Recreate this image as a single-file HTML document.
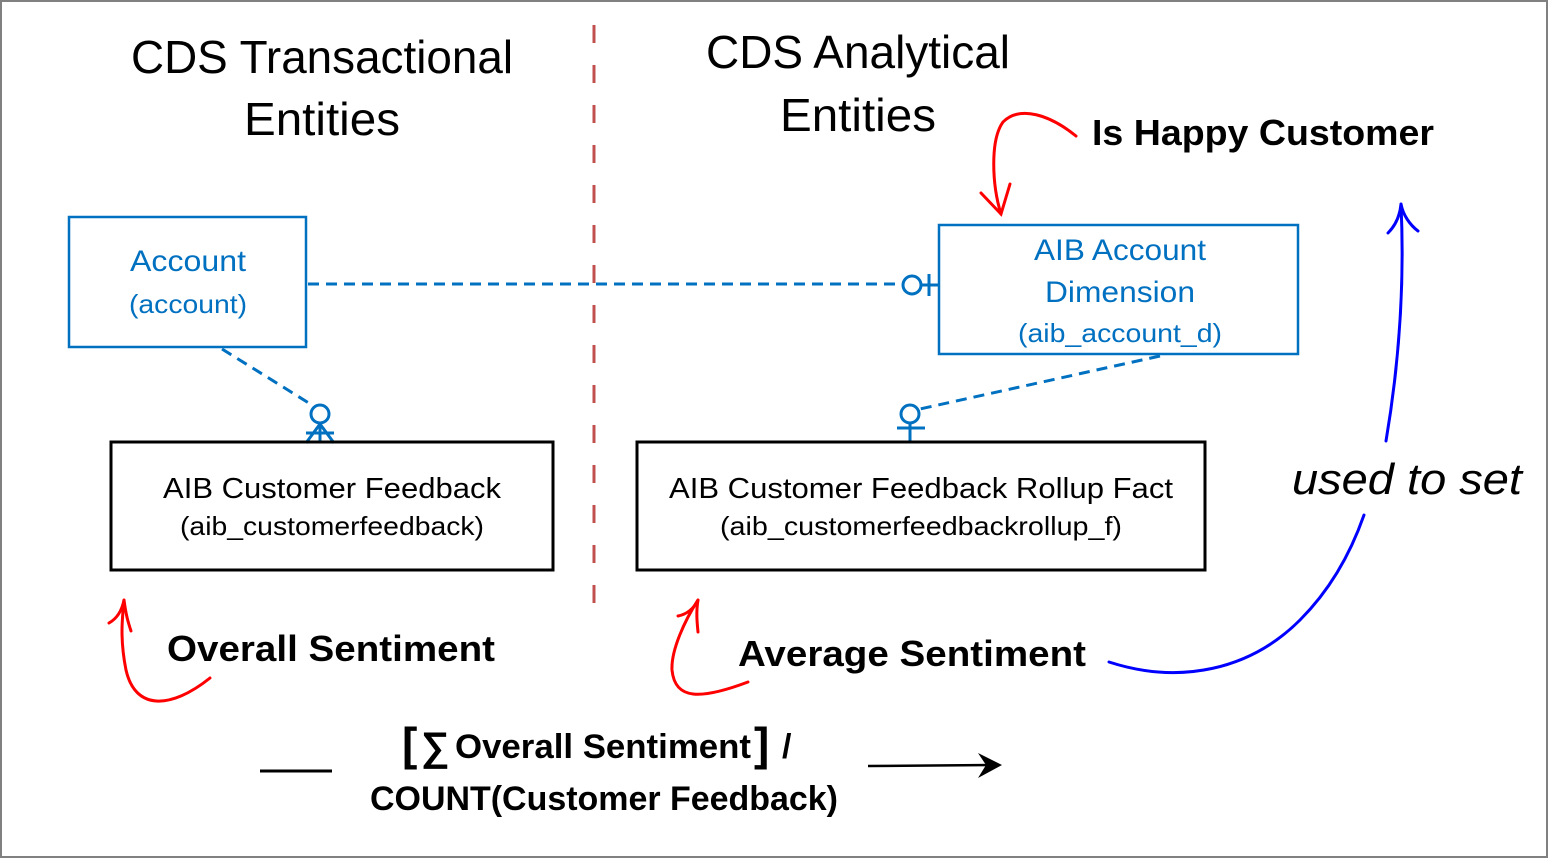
<!DOCTYPE html>
<html><head><meta charset="utf-8"><style>
html,body{margin:0;padding:0;background:#fff}
svg{display:block}
text{font-family:"Liberation Sans",sans-serif}
</style></head><body>
<svg width="1548" height="858" viewBox="0 0 1548 858" xmlns="http://www.w3.org/2000/svg">
<rect x="1" y="1" width="1546" height="856" fill="#fff" stroke="#808080" stroke-width="2"/>
<!-- titles -->
<g font-size="46" fill="#000" text-anchor="middle">
<text x="322" y="73" textLength="382" lengthAdjust="spacingAndGlyphs">CDS Transactional</text>
<text x="322" y="135" textLength="156" lengthAdjust="spacingAndGlyphs">Entities</text>
<text x="858" y="68" textLength="304" lengthAdjust="spacingAndGlyphs">CDS Analytical</text>
<text x="858" y="131" textLength="156" lengthAdjust="spacingAndGlyphs">Entities</text>
</g>
<!-- divider -->
<line x1="594" y1="25" x2="594" y2="625" stroke="#c0504d" stroke-width="3" stroke-dasharray="18,22"/>
<!-- connectors -->
<g stroke="#0070c0" stroke-width="3" fill="none">
<line x1="308" y1="284" x2="903" y2="284" stroke-dasharray="11,7"/>
<circle cx="912" cy="285" r="9"/>
<line x1="929" y1="274" x2="929" y2="296"/>
<line x1="921" y1="285" x2="939" y2="285"/>
<line x1="222" y1="349" x2="312" y2="405" stroke-dasharray="11,7"/>
<circle cx="320" cy="414" r="9"/>
<line x1="306" y1="433" x2="334" y2="433"/>
<line x1="320" y1="423" x2="320" y2="443"/>
<line x1="320" y1="424" x2="306" y2="443"/>
<line x1="320" y1="424" x2="334" y2="443"/>
<line x1="1160" y1="356" x2="920" y2="409" stroke-dasharray="11,7"/>
<circle cx="910" cy="414" r="9"/>
<line x1="897" y1="428" x2="925" y2="428"/>
<line x1="910" y1="423" x2="910" y2="442"/>
</g>
<!-- boxes -->
<rect x="69" y="217" width="237" height="130" fill="none" stroke="#0070c0" stroke-width="2.5"/>
<rect x="939" y="225" width="359" height="129" fill="none" stroke="#0070c0" stroke-width="2.5"/>
<rect x="111" y="442" width="442" height="128" fill="none" stroke="#000" stroke-width="3"/>
<rect x="637" y="442" width="568" height="128" fill="none" stroke="#000" stroke-width="3"/>
<g fill="#0070c0" text-anchor="middle">
<text x="188" y="271" font-size="30" textLength="116" lengthAdjust="spacingAndGlyphs">Account</text>
<text x="188" y="313" font-size="26" textLength="118" lengthAdjust="spacingAndGlyphs">(account)</text>
<text x="1120" y="260" font-size="30" textLength="172" lengthAdjust="spacingAndGlyphs">AIB Account</text>
<text x="1120" y="302" font-size="30" textLength="150" lengthAdjust="spacingAndGlyphs">Dimension</text>
<text x="1120" y="342" font-size="26" textLength="204" lengthAdjust="spacingAndGlyphs">(aib_account_d)</text>
</g>
<g fill="#000" text-anchor="middle">
<text x="332" y="498" font-size="29" textLength="338" lengthAdjust="spacingAndGlyphs">AIB Customer Feedback</text>
<text x="332" y="535" font-size="26" textLength="304" lengthAdjust="spacingAndGlyphs">(aib_customerfeedback)</text>
<text x="921" y="498" font-size="29" textLength="504" lengthAdjust="spacingAndGlyphs">AIB Customer Feedback Rollup Fact</text>
<text x="921" y="535" font-size="26" textLength="402" lengthAdjust="spacingAndGlyphs">(aib_customerfeedbackrollup_f)</text>
</g>
<!-- labels -->
<g fill="#000" font-weight="bold" font-size="36">
<text x="1092" y="145" textLength="342" lengthAdjust="spacingAndGlyphs">Is Happy Customer</text>
<text x="167" y="661" textLength="328" lengthAdjust="spacingAndGlyphs">Overall Sentiment</text>
<text x="738" y="666" textLength="348" lengthAdjust="spacingAndGlyphs">Average Sentiment</text>
</g>
<text x="1292" y="494" font-size="44" font-style="italic" fill="#000" textLength="230" lengthAdjust="spacingAndGlyphs">used to set</text>
<!-- formula -->
<line x1="260" y1="771" x2="332" y2="771" stroke="#000" stroke-width="3"/>
<text x="402" y="760" font-size="46" font-weight="bold" fill="#000">[</text>
<text x="421" y="760" font-size="40" font-weight="bold" fill="#000">∑</text>
<text x="455" y="758" font-size="34" font-weight="bold" fill="#000" textLength="296" lengthAdjust="spacingAndGlyphs">Overall Sentiment</text>
<text x="754" y="760" font-size="46" font-weight="bold" fill="#000">]</text>
<text x="782" y="758" font-size="34" font-weight="bold" fill="#000">/</text>
<text x="370" y="810" font-size="34" font-weight="bold" fill="#000" textLength="468" lengthAdjust="spacingAndGlyphs">COUNT(Customer Feedback)</text>
<line x1="868" y1="766" x2="992" y2="765" stroke="#000" stroke-width="2.5"/>
<path d="M1002,765 L978,753 L986,765 L978,778 Z" fill="#000"/>
<!-- red curves -->
<g stroke="#ff0000" stroke-width="3" fill="none" stroke-linecap="round">
<path d="M1076,136 C1050,115 1020,105 1003,122 C990,140 992,185 1001,214"/>
<path d="M981,193 L1001,214 L1010,184"/>
<path d="M210,678 C170,710 135,710 126,670 C120,640 122,620 124,600"/>
<path d="M109,623 C118,618 122,610 124,600 C126,615 128,622 131,631"/>
<path d="M748,682 C700,700 675,700 672,670 C671,650 685,620 698,600"/>
<path d="M678,616 C688,614 694,608 698,600 C696,612 697,622 698,632"/>
</g>
<!-- blue curve -->
<g stroke="#0000ff" stroke-width="3" fill="none" stroke-linecap="round">
<path d="M1109,662 C1180,685 1250,670 1300,620 C1330,590 1350,555 1364,515"/>
<path d="M1386,441 C1398,370 1405,290 1401,204"/>
<path d="M1388,233 C1396,225 1400,215 1401,204 C1403,215 1410,225 1418,231"/>
</g>
</svg>
</body></html>
